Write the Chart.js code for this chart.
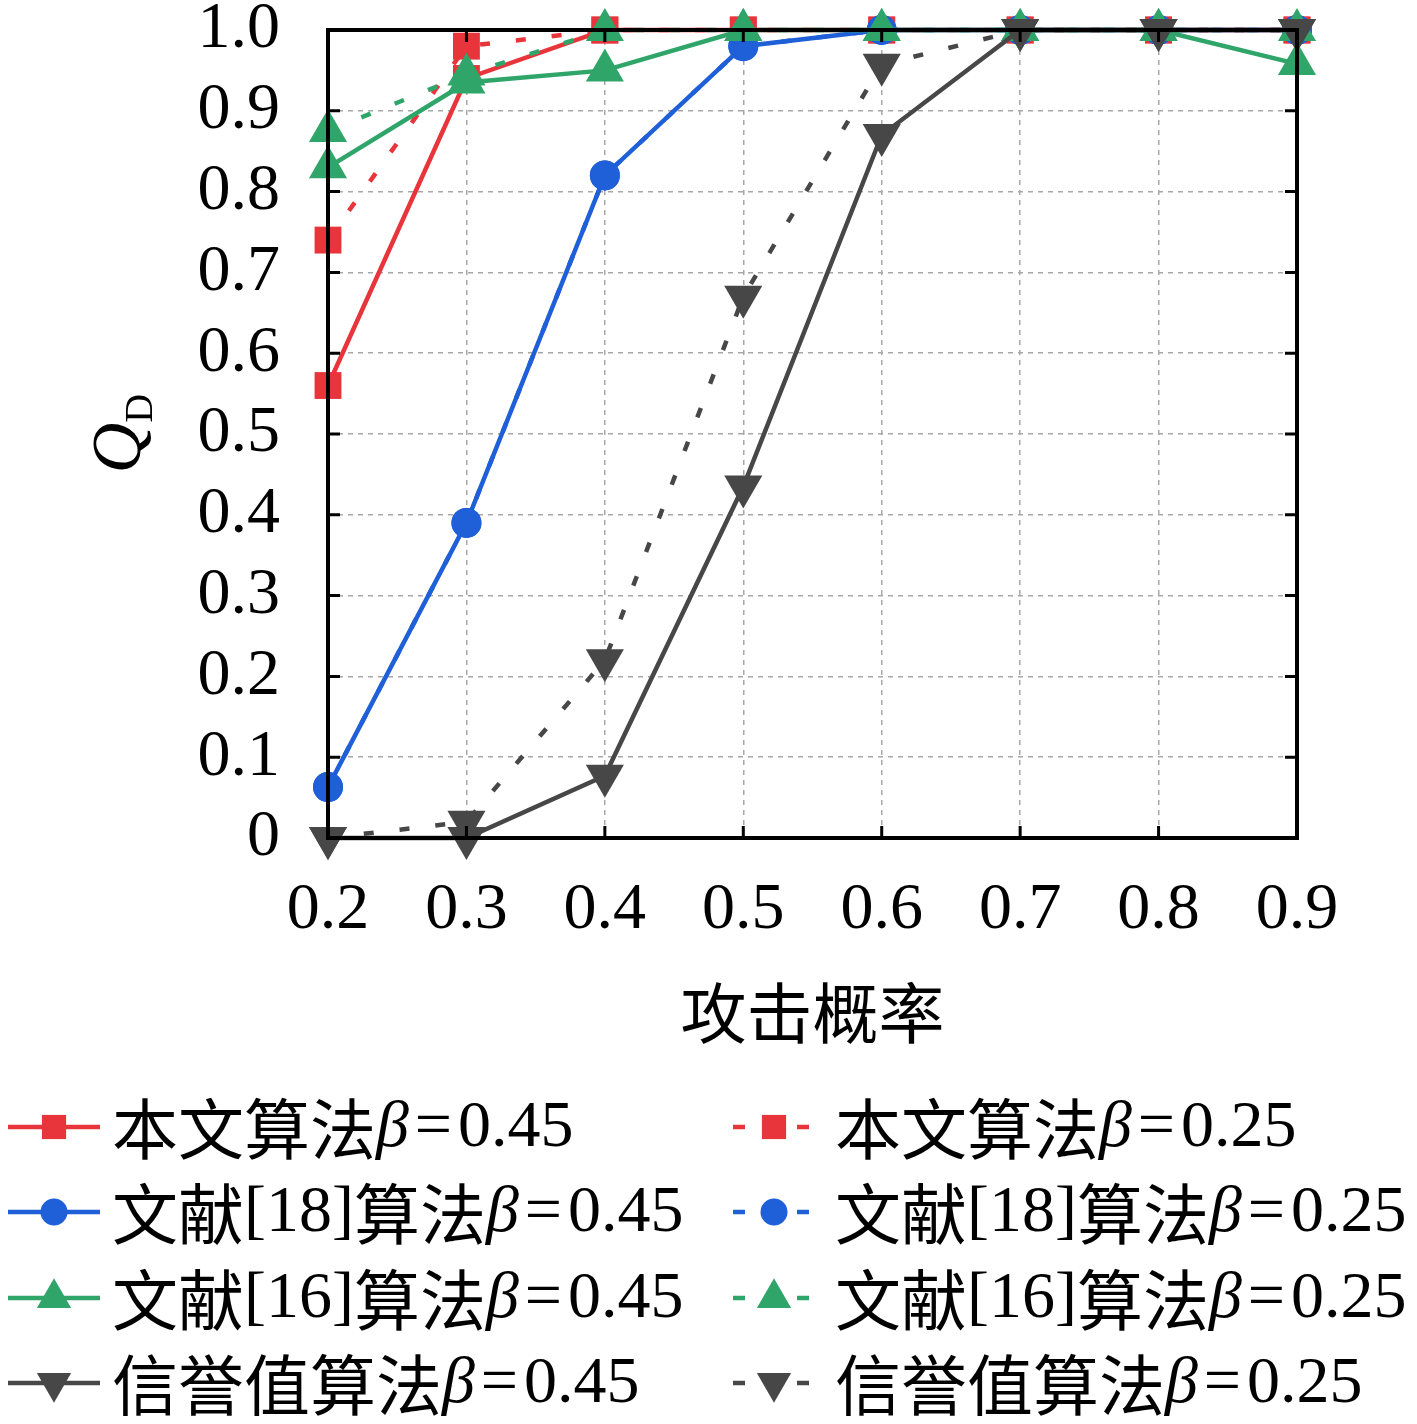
<!DOCTYPE html>
<html>
<head>
<meta charset="utf-8">
<script src="https://cdn.jsdelivr.net/npm/chart.js@4/dist/chart.umd.min.js"></script>
<style>
  body { margin: 0; background: #fff; }
  #wrap { width: 1417px; height: 1424px; position: relative; }
</style>
</head>
<body>
<div id="wrap"><canvas id="chart"></canvas></div>
<script>
// ---- data ----
const attackProb = ['0.2', '0.3', '0.4', '0.5', '0.6', '0.7', '0.8', '0.9'];
const yTicks = [0, 0.1, 0.2, 0.3, 0.4, 0.5, 0.6, 0.7, 0.8, 0.9, 1.0];

const oursB45   = [0.56, 0.94, 1.00, 1.00, 1.00, 1.00, 1.00, 1.00];
const oursB25   = [0.74, 0.98, 1.00, 1.00, 1.00, 1.00, 1.00, 1.00];
const ref18B45  = [0.063, 0.39, 0.82, 0.98, 1.00, 1.00, 1.00, 1.00];
const ref18B25  = [0.063, 0.39, 0.82, 0.98, 1.00, 1.00, 1.00, 1.00];
const ref16B45  = [0.83, 0.935, 0.95, 1.00, 1.00, 1.00, 1.00, 0.958];
const ref16B25  = [0.875, 0.945, 1.00, 1.00, 1.00, 1.00, 1.00, 1.00];
const repB45    = [0.00, 0.00, 0.077, 0.435, 0.87, 1.00, 1.00, 1.00];
const repB25    = [0.00, 0.02, 0.22, 0.67, 0.957, 1.00, 1.00, 1.00];

const algoNames = ['本文算法', '文献[18]算法', '文献[16]算法', '信誉值算法'];
const betaValues = ['0.45', '0.25'];

const RED = '#e8353b', BLUE = '#1f5fd8', GREEN = '#2fa56a', GREY = '#474747';
const DASH = [10, 26];
const SERIF = "'Liberation Serif', 'DejaVu Serif', serif";
const CJK = "'Noto Sans CJK SC', sans-serif";
const FS = 66;

function series(name, beta, data, color, style, radius, dashed, rot) {
    return {
        label: name + 'β=' + beta,
        data: data,
        borderColor: color,
        backgroundColor: color,
        borderWidth: 4.5,
        borderDash: dashed ? DASH : [],
        pointStyle: style,
        pointRotation: rot || 0,
        pointRadius: radius,
        pointBorderWidth: 0,
        tension: 0,
        clip: false
    };
}

const datasets = [
    series(algoNames[0], betaValues[0], oursB45, RED, 'rect', 19, false),
    series(algoNames[0], betaValues[1], oursB25, RED, 'rect', 19, true),
    series(algoNames[1], betaValues[0], ref18B45, BLUE, 'circle', 15, false),
    series(algoNames[1], betaValues[1], ref18B25, BLUE, 'circle', 15, true),
    series(algoNames[2], betaValues[0], ref16B45, GREEN, 'triangle', 22, false),
    series(algoNames[2], betaValues[1], ref16B25, GREEN, 'triangle', 22, true),
    series(algoNames[3], betaValues[0], repB45, GREY, 'triangle', 22, false, 180),
    series(algoNames[3], betaValues[1], repB25, GREY, 'triangle', 22, true, 180)
];
// later series drawn on top
datasets.forEach((d, i) => d.order = datasets.length - i);

// draw mixed CJK / latin text, beta in italics
function drawMixed(ctx, text, x, y) {
    let cx = x;
    for (const ch of text) {
        if (/[\u4e00-\u9fff]/.test(ch)) ctx.font = FS + 'px ' + CJK;
        else if (ch === 'β') ctx.font = 'italic ' + FS + 'px ' + SERIF;
        else ctx.font = FS + 'px ' + SERIF;
        ctx.fillText(ch, cx, y);
        cx += ctx.measureText(ch).width;
        if (ch === '=' || ch === 'β') cx += 6;
    }
}

// ---- frame, ticks, titles and legend ----
const decorations = {
    id: 'decorations',
    afterDraw(chart) {
        const ctx = chart.ctx;
        const a = chart.chartArea;
        const xs = chart.scales.x, ys = chart.scales.y;
        ctx.save();

        // inner tick marks on all sides
        ctx.strokeStyle = '#000';
        ctx.lineWidth = 3;
        const tl = 12;
        ctx.beginPath();
        attackProb.forEach((_, i) => {
            const px = xs.getPixelForValue(i);
            ctx.moveTo(px, a.bottom); ctx.lineTo(px, a.bottom - tl);
            ctx.moveTo(px, a.top); ctx.lineTo(px, a.top + tl);
        });
        yTicks.forEach(v => {
            const py = ys.getPixelForValue(v);
            ctx.moveTo(a.left, py); ctx.lineTo(a.left + tl, py);
            ctx.moveTo(a.right, py); ctx.lineTo(a.right - tl, py);
        });
        ctx.stroke();

        // frame
        ctx.lineWidth = 4;
        ctx.strokeRect(a.left, a.top, a.right - a.left, a.bottom - a.top);

        // y title Q_D
        ctx.fillStyle = '#000';
        ctx.translate(118, (a.top + a.bottom) / 2);
        ctx.rotate(-Math.PI / 2);
        ctx.textBaseline = 'alphabetic';
        ctx.textAlign = 'left';
        ctx.font = 'italic 70px ' + SERIF;
        const qw = ctx.measureText('Q').width;
        ctx.fillText('Q', -qw / 2 - 14, 22);
        ctx.font = '40px ' + SERIF;
        ctx.fillText('D', qw / 2 - 14, 34);
        ctx.setTransform(1, 0, 0, 1, 0, 0);
        ctx.restore();
        ctx.save();

        // x title
        ctx.fillStyle = '#000';
        ctx.font = FS + 'px ' + CJK;
        ctx.textAlign = 'center';
        ctx.textBaseline = 'middle';
        ctx.fillText('攻击概率', (a.left + a.right) / 2, 1013);

        // legend: 2 columns (beta 0.45 | beta 0.25), 4 rows
        ctx.textAlign = 'left';
        const rowsY = [1127, 1212, 1298, 1383];
        const cols = [{ x0: 8, x1: 100, tx: 112 }, { x0: 733, x1: 815, tx: 835 }];
        chart.data.datasets.forEach((d, i) => {
            const row = Math.floor(i / 2), col = cols[i % 2];
            const y = rowsY[row];
            ctx.strokeStyle = d.borderColor;
            ctx.lineWidth = 4.5;
            ctx.setLineDash(d.borderDash.length ? [12, 20] : []);
            ctx.beginPath();
            ctx.moveTo(col.x0, y); ctx.lineTo(col.x1, y);
            ctx.stroke();
            ctx.setLineDash([]);
            ctx.fillStyle = d.backgroundColor;
            Chart.helpers.drawPoint(ctx, {
                pointStyle: d.pointStyle, rotation: d.pointRotation,
                radius: d.pointRadius * 0.9, borderWidth: 0
            }, (col.x0 + col.x1) / 2, y);
            ctx.fillStyle = '#000';
            ctx.textBaseline = 'middle';
            drawMixed(ctx, d.label, col.tx, y + 2);
        });
        ctx.restore();
    }
};

new Chart(document.getElementById('chart'), {
    type: 'line',
    data: { labels: attackProb, datasets: datasets },
    options: {
        responsive: true,
        maintainAspectRatio: false,
        animation: false,
        layout: { padding: { left: 0, right: 120, top: 30, bottom: 0 } },
        plugins: { legend: { display: false }, tooltip: { enabled: false } },
        scales: {
            x: {
                offset: false,
                grid: { color: '#a8a8a8', lineWidth: 1.5, drawTicks: false, tickLength: 0 },
                border: { display: false, dash: [5, 5] },
                ticks: { color: '#000', padding: 33, font: { family: SERIF, size: FS }, maxRotation: 0, autoSkip: false },
                afterFit: s => { s.height = 586; s.paddingLeft = 0; s.paddingRight = 0; }
            },
            y: {
                min: 0, max: 1,
                afterBuildTicks: s => { s.ticks = yTicks.map(v => ({ value: v })); },
                grid: { color: '#a8a8a8', lineWidth: 1.5, drawTicks: false, tickLength: 0 },
                border: { display: false, dash: [5, 5] },
                ticks: {
                    color: '#000', padding: 48, autoSkip: false,
                    font: { family: SERIF, size: FS },
                    callback: v => v === 0 ? '0' : v.toFixed(1)
                },
                afterFit: s => { s.width = 328; s.paddingTop = 0; s.paddingBottom = 0; }
            }
        }
    },
    plugins: [decorations]
});
</script>
</body>
</html>
